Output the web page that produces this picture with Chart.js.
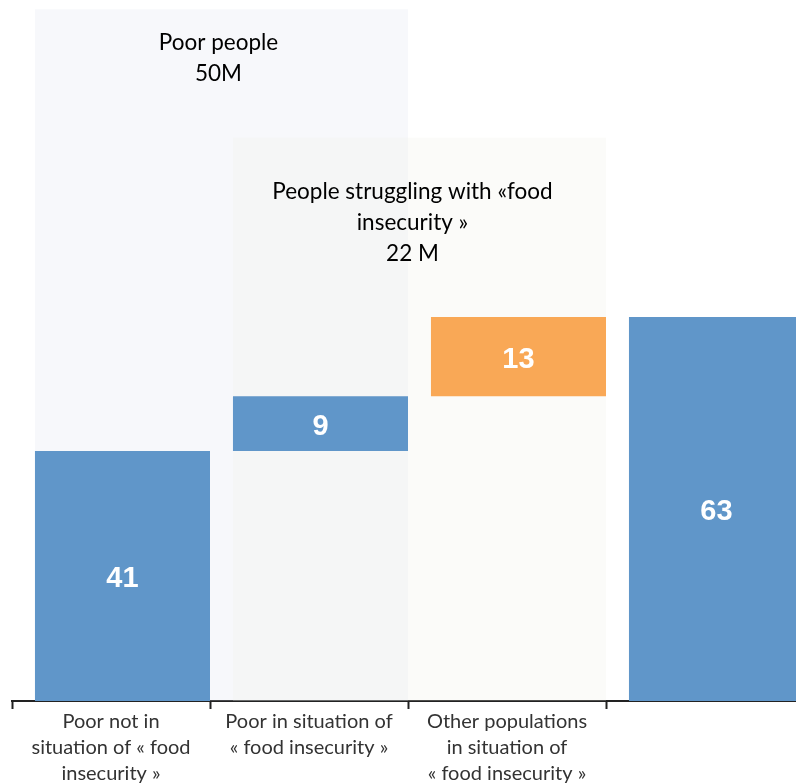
<!DOCTYPE html>
<html>
<head>
<meta charset="utf-8">
<script src="https://cdn.jsdelivr.net/npm/chart.js@4.4.1/dist/chart.umd.min.js"></script>
<style>
  html, body { margin: 0; padding: 0; background: #fff; }
  #wrap { width: 796px; height: 784px; overflow: hidden; }
</style>
</head>
<body>
<div id="wrap"><canvas id="waterfallChart" width="796" height="784"></canvas></div>
<script>
// categories (the 4th one is the total, without label)
const categories = [
    ['Poor not in', 'situation of « food', 'insecurity »'],
    ['Poor in situation of', '« food insecurity »'],
    ['Other populations', 'in situation of', '« food insecurity »'],
    ''
];
const barValues = [41, 9, 13, 63];
const barBases = [0, 41, 50, 0];
const barColors = ['#6096c9', '#6096c9', '#f9a856', '#6096c9'];

// shaded groups behind the bars
const groupLabels = [['Poor people', '50M'], ['People struggling with «food', 'insecurity »', '22 M']];
const groupFirst = [0, 1];
const groupLast = [1, 2];
const groupTops = [113.5, 92.4];

const BAR_W = 0.884;
const HALF = BAR_W / 2;
const X_MIN = HALF - 1;
const X_MAX = X_MIN + 784 / 198;
const Y_MAX = 115;

const groupColors = ['rgba(214, 222, 236, 0.2)', 'rgba(236, 236, 228, 0.22)'];

const datasets = [{
    type: 'bar',
    data: barValues.map((v, i) => ({ x: i, y: [barBases[i], barBases[i] + v] })),
    backgroundColor: barColors,
    borderWidth: 0,
    // the label ticks sit half way between the boundary ticks, so the
    // bar ruler is half a category wide
    barPercentage: BAR_W * 2,
    categoryPercentage: 1,
    order: 0
}];
groupTops.forEach((top, g) => {
    datasets.push({
        type: 'line',
        data: [{ x: groupFirst[g] - HALF, y: top }, { x: groupLast[g] + HALF, y: top }],
        fill: 'origin',
        backgroundColor: groupColors[g],
        borderWidth: 0,
        pointRadius: 0,
        order: 2 - g
    });
});

// value labels in the bars + group captions
const labelsPlugin = {
    id: 'labelsPlugin',
    afterDatasetsDraw(chart) {
        const ctx = chart.ctx;
        const xs = chart.scales.x, ys = chart.scales.y;
        ctx.save();
        ctx.textAlign = 'center';
        ctx.textBaseline = 'middle';

        ctx.fillStyle = '#000';
        ctx.font = '22.5px Lato';
        groupLabels.forEach((lines, g) => {
            const cx = xs.getPixelForValue((groupFirst[g] + groupLast[g]) / 2) - (g === 1 ? 7 : 3);
            const top = ys.getPixelForValue(groupTops[g]);
            const first = top + (g === 0 ? 34 : 54);
            lines.forEach((t, k) => ctx.fillText(t, cx, first + k * 31));
        });

        ctx.fillStyle = '#fff';
        ctx.font = 'bold 29px "Liberation Sans", Arial';
        chart.getDatasetMeta(0).data.forEach((bar, i) => {
            const p = bar.getCenterPoint();
            ctx.fillText(String(barValues[i]), p.x, p.y + 3);
        });
        ctx.restore();
    }
};

const chart = new Chart(document.getElementById('waterfallChart'), {
    data: { datasets: datasets },
    options: {
        responsive: false,
        animation: false,
        layout: { padding: { left: 12, right: 0, top: 0, bottom: 0 } },
        plugins: {
            legend: { display: false },
            tooltip: { enabled: false }
        },
        scales: {
            x: {
                type: 'linear',
                min: X_MIN,
                max: X_MAX,
                offset: false,
                afterBuildTicks: function (scale) {
                    const ticks = [];
                    categories.forEach((c, i) => {
                        ticks.push({ value: i - 1 + HALF, boundary: true });
                        if (c !== '') ticks.push({ value: i - 0.5 + HALF, cat: i });
                    });
                    scale.ticks = ticks;
                },
                afterFit: function (scale) {
                    scale.height = 83;
                },
                ticks: {
                    autoSkip: false,
                    maxRotation: 0,
                    minRotation: 0,
                    padding: 0,
                    color: '#333',
                    font: { family: 'Lato', size: 20, lineHeight: 1.3 },
                    callback: function (value, index, ticks) {
                        const t = ticks[index];
                        return t.boundary ? '' : categories[t.cat];
                    }
                },
                grid: {
                    offset: false,
                    drawOnChartArea: false,
                    tickLength: 8,
                    tickWidth: 2,
                    tickColor: c => (c.tick && c.tick.boundary) ? '#222' : 'rgba(0,0,0,0)'
                },
                border: { color: '#222', width: 2 }
            },
            y: {
                display: false,
                min: 0,
                max: Y_MAX
            }
        }
    },
    plugins: [labelsPlugin]
});
</script>
</body>
</html>
